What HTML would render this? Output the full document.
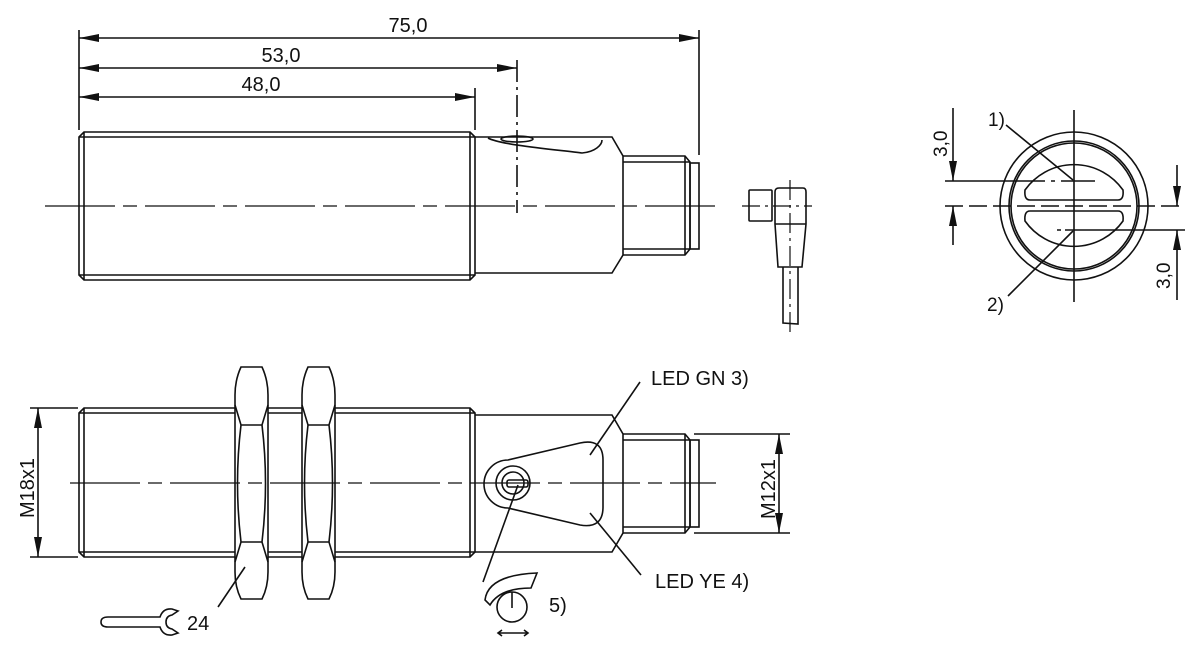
<!DOCTYPE html>
<html><head><meta charset="utf-8"><style>
html,body{margin:0;padding:0;background:#fff;}
svg{display:block;}
text{font-family:"Liberation Sans",Arial,sans-serif;fill:#111;}
</style></head><body>
<svg width="1200" height="656" viewBox="0 0 1200 656" xmlns="http://www.w3.org/2000/svg">
<defs>
<marker id="a" viewBox="0 0 20 8" refX="20" refY="4" markerWidth="20" markerHeight="9" markerUnits="userSpaceOnUse" orient="auto-start-reverse"><path d="M0,0 L20,4 L0,8 Z" fill="#111"/></marker>
</defs>
<g fill="none" stroke="#111" stroke-width="1.6">
<line x1="79" y1="30" x2="79" y2="130"/>
<line x1="699" y1="30" x2="699" y2="155"/>
<line x1="475" y1="88" x2="475" y2="130"/>
<line x1="79" y1="38" x2="699" y2="38" marker-start="url(#a)" marker-end="url(#a)"/>
<line x1="79" y1="68" x2="517" y2="68" marker-start="url(#a)" marker-end="url(#a)"/>
<line x1="79" y1="97" x2="475" y2="97" marker-start="url(#a)" marker-end="url(#a)"/>
<line x1="517" y1="60" x2="517" y2="213" stroke-dasharray="22,5,3,5"/>
<path d="M84,132 L470,132 L475,137 L475,275 L470,280 L84,280 L79,275 L79,137 Z"/>
<line x1="79" y1="137" x2="475" y2="137"/>
<line x1="79" y1="275" x2="475" y2="275"/>
<line x1="84" y1="132" x2="84" y2="280"/>
<line x1="470" y1="132" x2="470" y2="280"/>
<path d="M475,137 L612,137 L623,156 L623,255 L612,273 L475,273"/>
<path d="M488,138 C500,145 560,150 582,153 C595,152 602,145 602,140"/>
<ellipse cx="517" cy="139" rx="16" ry="3"/>
<path d="M623,156 L685,156 L690,162 L690,249 L685,255 L623,255"/>
<line x1="623" y1="162" x2="690" y2="162"/>
<line x1="623" y1="249" x2="690" y2="249"/>
<line x1="685" y1="156" x2="685" y2="255"/>
<rect x="690" y="163" width="9" height="86"/>
<line x1="45" y1="206" x2="718" y2="206" stroke-dasharray="70,8,14,8" stroke-width="1.3"/>
<rect x="749" y="190" width="23" height="31" rx="1"/>
<path d="M775,192 Q775,188 779,188 L803,188 Q806,188 806,192 L806,224 L802,267 L778,267 L775,224 Z"/>
<line x1="775" y1="224" x2="806" y2="224"/>
<path d="M783,267 L783,323 L798,324 L798,267"/>
<line x1="790" y1="180" x2="790" y2="332" stroke-dasharray="20,5,3,5" stroke-width="1.2"/>
<line x1="742" y1="206" x2="812" y2="206" stroke-dasharray="18,5,3,5" stroke-width="1.2"/>
<circle cx="1074" cy="206" r="74"/>
<circle cx="1074" cy="206" r="65"/>
<circle cx="1074" cy="206" r="63"/>
<path d="M1030,200 Q1024,200 1025,190 A60,60 0 0 1 1123,190 Q1124,200 1118,200 Z"/>
<path d="M1030,211 Q1024,211 1025,221 A60,60 0 0 0 1123,221 Q1124,211 1118,211 Z"/>
<line x1="1074" y1="110" x2="1074" y2="302"/>
<line x1="945" y1="181" x2="1095" y2="181" stroke-dasharray="100,6,4,6"/>
<line x1="945" y1="206" x2="1185" y2="206" stroke-dasharray="18,6"/>
<line x1="1057" y1="230" x2="1185" y2="230" stroke-dasharray="4,4,200"/>
<line x1="953" y1="108" x2="953" y2="181" marker-end="url(#a)"/>
<line x1="953" y1="245" x2="953" y2="206" marker-end="url(#a)"/>
<line x1="1177" y1="165" x2="1177" y2="206" marker-end="url(#a)"/>
<line x1="1177" y1="300" x2="1177" y2="230" marker-end="url(#a)"/>
<line x1="1006" y1="125" x2="1073" y2="180"/>
<line x1="1073" y1="231" x2="1008" y2="296"/>
<line x1="30" y1="408" x2="78" y2="408"/>
<line x1="30" y1="557" x2="78" y2="557"/>
<line x1="38" y1="408" x2="38" y2="557" marker-start="url(#a)" marker-end="url(#a)"/>
<path d="M84,408 L470,408 L475,413 L475,552 L470,557 L84,557 L79,552 L79,413 Z"/>
<line x1="79" y1="413" x2="475" y2="413"/>
<line x1="79" y1="552" x2="475" y2="552"/>
<line x1="84" y1="408" x2="84" y2="557"/>
<line x1="470" y1="408" x2="470" y2="557"/>
<g fill="#fff">
<path d="M241,367 L262,367 Q268,380 268,395 L268,572 Q268,587 262,599 L241,599 Q235,587 235,572 L235,395 Q235,380 241,367 Z"/>
<path d="M308,367 L329,367 Q335,380 335,395 L335,572 Q335,587 329,599 L308,599 Q302,587 302,572 L302,395 Q302,380 308,367 Z"/>
</g>
<path d="M235,405 L241,425 L262,425 L268,405 M241,425 Q234,483 241,542 M262,425 Q269,483 262,542 M235,562 L241,542 L262,542 L268,562"/>
<path d="M302,405 L308,425 L329,425 L335,405 M308,425 Q301,483 308,542 M329,425 Q336,483 329,542 M302,562 L308,542 L329,542 L335,562"/>
<path d="M475,415 L612,415 L623,434 L623,533 L612,552 L475,552"/>
<path d="M623,434 L685,434 L690,440 L690,527 L685,533 L623,533"/>
<line x1="623" y1="440" x2="690" y2="440"/>
<line x1="623" y1="527" x2="690" y2="527"/>
<line x1="685" y1="434" x2="685" y2="533"/>
<rect x="690" y="440" width="9" height="87"/>
<line x1="694" y1="434" x2="790" y2="434"/>
<line x1="694" y1="533" x2="790" y2="533"/>
<line x1="779" y1="434" x2="779" y2="533" marker-start="url(#a)" marker-end="url(#a)"/>
<path d="M508,460 L580,443 Q603,438 603,460 L603,507 Q603,529 580,525 L508,508 A24,24 0 0 1 508,460 Z"/>
<circle cx="513" cy="483" r="17"/>
<circle cx="513" cy="483" r="11"/>
<rect x="507" y="480" width="21" height="7" rx="2"/>
<line x1="70" y1="483" x2="716" y2="483" stroke-dasharray="70,8,14,8" stroke-width="1.3"/>
<line x1="518" y1="485" x2="483" y2="582"/>
<line x1="590" y1="455" x2="640" y2="382"/>
<line x1="590" y1="513" x2="641" y2="575"/>
<line x1="245" y1="567" x2="218" y2="607"/>
<path d="M485,600 Q488,575 537,573 L531,588 Q500,588 490,605 Z"/>
<circle cx="512" cy="607" r="15"/>
<line x1="512" y1="592" x2="512" y2="608"/>
<path d="M498,633 L528,633 M502,630 L498,633 L502,636 M524,630 L528,633 L524,636"/>
<path d="M160,617 L108,617 Q101,617 101,622 Q101,627 108,627 L160,627 Q163,636 172,635 L178,633 L172,629 Q166,628 166,622 Q166,616 172,615 L178,611 L172,609 Q163,608 160,617 Z"/>
</g>
<text x="408" y="32" font-size="20" text-anchor="middle">75,0</text>
<text x="281" y="62" font-size="20" text-anchor="middle">53,0</text>
<text x="261" y="91" font-size="20" text-anchor="middle">48,0</text>
<text x="988" y="126" font-size="19">1)</text>
<text x="987" y="311" font-size="19">2)</text>
<text transform="translate(947,157) rotate(-90)" font-size="19">3,0</text>
<text transform="translate(1170,289) rotate(-90)" font-size="19">3,0</text>
<text transform="translate(34,518) rotate(-90)" font-size="20">M18x1</text>
<text transform="translate(775,519) rotate(-90)" font-size="20">M12x1</text>
<text x="651" y="385" font-size="20">LED GN 3)</text>
<text x="655" y="588" font-size="20">LED YE 4)</text>
<text x="549" y="612" font-size="20">5)</text>
<text x="187" y="630" font-size="20">24</text>
</svg>
</body></html>
